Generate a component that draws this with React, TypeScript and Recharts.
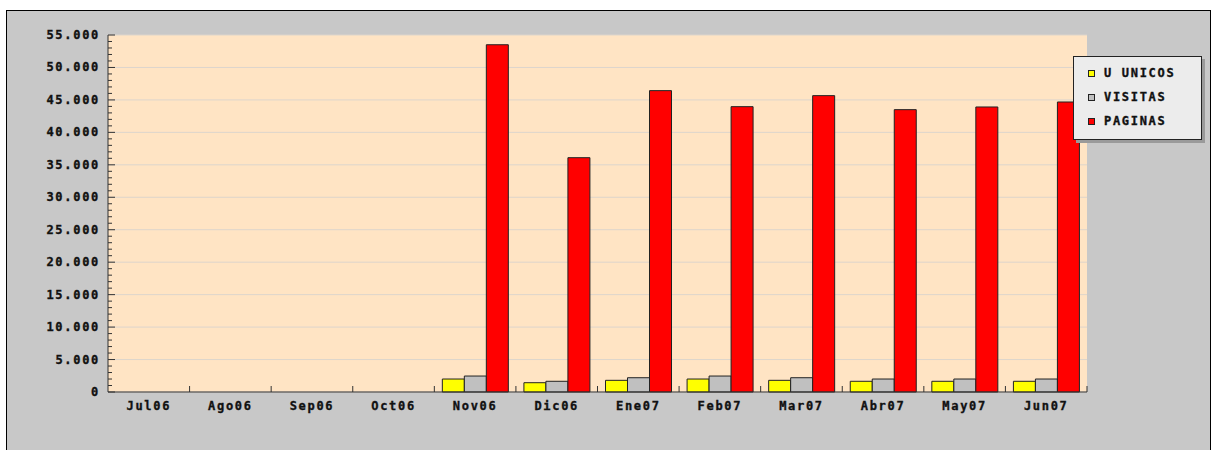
import { BarChart, Bar, XAxis, YAxis, CartesianGrid, Legend } from "recharts";

const months = ["Jul06", "Ago06", "Sep06", "Oct06", "Nov06", "Dic06", "Ene07", "Feb07", "Mar07", "Abr07", "May07", "Jun07"];
const unicos = [0, 0, 0, 0, 2000, 1430, 1800, 2000, 1800, 1650, 1650, 1650];
const visitas = [0, 0, 0, 0, 2460, 1650, 2200, 2460, 2200, 2000, 2000, 2000];
const paginas = [0, 0, 0, 0, 53500, 36100, 46430, 43960, 45660, 43500, 43910, 44680];
const yMajor = [0, 5000, 10000, 15000, 20000, 25000, 30000, 35000, 40000, 45000, 50000, 55000];
const yTicks = Array.from({ length: 56 }, (_, i) => i * 1000);

const series = [
  { key: "unicos", name: "U UNICOS", color: "#ffff00" },
  { key: "visitas", name: "VISITAS", color: "#c0c0c0" },
  { key: "paginas", name: "PAGINAS", color: "#ff0000" },
];

const data = months.map((m, i) => ({
  month: m,
  unicos: unicos[i],
  visitas: visitas[i],
  paginas: paginas[i],
}));

const FONT = "'DejaVu Sans Mono', monospace";
const fmt = (v: number) => v.toLocaleString("de-DE");

const textStyle = {
  fontFamily: FONT,
  fontWeight: "bold" as const,
  fontSize: 12,
  letterSpacing: 1.7,
  fill: "#111",
  stroke: "#111",
  strokeWidth: 0.35,
};

const YTick = (props: any) => {
  const { x, y, payload } = props;
  const major = payload.value % 5000 === 0;
  return (
    <g>
      <line x1={x} x2={x + (major ? 7 : 4)} y1={y} y2={y} stroke="#333" />
      {major && (
        <text x={x - 8} y={y} textAnchor="end" dominantBaseline="central" style={textStyle}>
          {fmt(payload.value)}
        </text>
      )}
    </g>
  );
};

const XTick = (props: any) => {
  const { x, y, payload } = props;
  const half = payload.offset ?? 40.8;
  return (
    <g>
      <line x1={x + half} x2={x + half} y1={y} y2={y - 6} stroke="#333" />
      <text x={x} y={y + 14} textAnchor="middle" dominantBaseline="central" style={textStyle}>
        {payload.value}
      </text>
    </g>
  );
};

const LegendBox = () => (
  <div
    style={{
      width: 129,
      height: 84,
      background: "#ececec",
      border: "1px solid #222",
      boxShadow: "3px 3px 0 #9a9a9a",
      paddingTop: 4,
      boxSizing: "border-box",
    }}
  >
    {series.map((s) => (
      <div key={s.key} style={{ display: "flex", alignItems: "center", height: 24 }}>
        <span
          style={{
            display: "inline-block",
            width: 5,
            height: 5,
            background: s.color,
            border: "1px solid #222",
            marginLeft: 14,
            marginRight: 9,
          }}
        />
        <span
          style={{
            fontFamily: FONT,
            fontWeight: "bold",
            fontSize: 12,
            letterSpacing: 1.7,
            color: "#111",
            WebkitTextStroke: "0.35px #111",
          }}
        >
          {s.name}
        </span>
      </div>
    ))}
  </div>
);

export default function App() {
  return (
    <div
      style={{
        position: "absolute",
        left: 6,
        top: 10,
        width: 1203,
        height: 445,
        background: "#c8c8c8",
        borderTop: "1px solid #000",
        borderLeft: "1px solid #000",
        borderRight: "1px solid #000",
      }}
    >
      <BarChart
        width={1203}
        height={439}
        data={data}
        margin={{ top: 24, right: 123, bottom: 28, left: 0 }}
        barCategoryGap={8}
        barGap={0}
      >
        <CartesianGrid
          vertical={false}
          horizontalValues={yMajor}
          stroke="#ddd5cc"
          fill="#ffe4c4"
          fillOpacity={1}
        />
        <XAxis
          dataKey="month"
          height={30}
          tickSize={0}
          tickMargin={0}
          tickLine={false}
          axisLine={{ stroke: "#333" }}
          tick={<XTick />}
          interval={0}
        />
        <YAxis
          width={101}
          domain={[0, 55000]}
          ticks={yTicks}
          interval={0}
          tickSize={0}
          tickMargin={0}
          tickLine={false}
          axisLine={{ stroke: "#333" }}
          tick={<YTick />}
        />
        <Legend
          layout="vertical"
          align="center"
          verticalAlign="middle"
          content={<LegendBox />}
          wrapperStyle={{ left: 1066, top: 45, width: 132, height: 88 }}
        />
        {series.map((s) => (
          <Bar
            key={s.key}
            dataKey={s.key}
            name={s.name}
            fill={s.color}
            stroke="#222"
            strokeWidth={1}
            isAnimationActive={false}
          />
        ))}
      </BarChart>
    </div>
  );
}
